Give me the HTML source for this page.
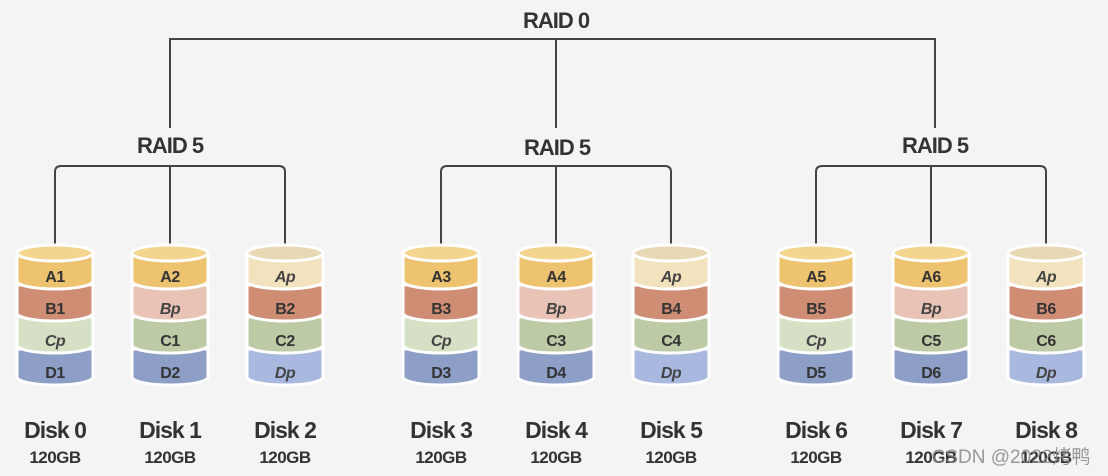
<!DOCTYPE html>
<html><head><meta charset="utf-8"><style>
html,body{margin:0;padding:0;background:#f5f5f5}
svg{display:block}
text{font-family:"Liberation Sans","Noto Sans CJK SC",sans-serif;fill:#333;text-anchor:middle}
.l{font-size:16px;font-weight:bold;letter-spacing:-0.5px}
.p{font-style:italic;fill:#444}
.dk{font-size:23px;font-weight:bold;letter-spacing:-1px}
.gb{font-size:17px;font-weight:bold;letter-spacing:-0.5px}
.r{font-size:22px;font-weight:bold;letter-spacing:-1px}
</style></head><body>
<svg width="1108" height="476" viewBox="0 0 1108 476" xmlns="http://www.w3.org/2000/svg">
<defs>
<path id="L" d="M-38,0 V28 A38 8 0 0 0 38,28 V0 Z" stroke="#fff" stroke-width="3"/>
</defs>
<rect width="1108" height="476" fill="#f4f4f4"/>
<g fill="none" stroke="#444" stroke-width="2">
<path d="M170,128 V39 H935 V128"/>
<path d="M556,39 V128"/>
<path d="M55,253 V172 Q55,166 61,166 H279 Q285,166 285,172 V253 M170,166 V253"/>
<path d="M441,253 V172 Q441,166 447,166 H665 Q671,166 671,172 V253 M556,166 V253"/>
<path d="M816,253 V172 Q816,166 822,166 H1040 Q1046,166 1046,172 V253 M931,166 V253"/>
</g>
<text class="r" x="556" y="28">RAID 0</text>
<text class="r" x="170" y="153">RAID 5</text>
<text class="r" x="557" y="155">RAID 5</text>
<text class="r" x="935" y="153">RAID 5</text>

<g transform="translate(55,0)">
<use href="#L" y="349" fill="#8d9fc7"/><use href="#L" y="317" fill="#d6e0c4"/><use href="#L" y="285" fill="#cf8d74"/><use href="#L" y="253" fill="#eec36f"/>
<ellipse cx="0" cy="253" rx="38" ry="8" fill="#f3d58e" stroke="#fff" stroke-width="3"/>
<text class="l" y="282">A1</text><text class="l" y="314">B1</text><text class="l p" y="346">Cp</text><text class="l" y="378">D1</text>
<text class="dk" y="438">Disk 0</text><text class="gb" y="463">120GB</text></g>

<g transform="translate(170,0)">
<use href="#L" y="349" fill="#8d9fc7"/><use href="#L" y="317" fill="#bccaa6"/><use href="#L" y="285" fill="#e8c3b6"/><use href="#L" y="253" fill="#eec36f"/>
<ellipse cx="0" cy="253" rx="38" ry="8" fill="#f3d58e" stroke="#fff" stroke-width="3"/>
<text class="l" y="282">A2</text><text class="l p" y="314">Bp</text><text class="l" y="346">C1</text><text class="l" y="378">D2</text>
<text class="dk" y="438">Disk 1</text><text class="gb" y="463">120GB</text></g>

<g transform="translate(285,0)">
<use href="#L" y="349" fill="#a9b8df"/><use href="#L" y="317" fill="#bccaa6"/><use href="#L" y="285" fill="#cf8d74"/><use href="#L" y="253" fill="#f2e2bd"/>
<ellipse cx="0" cy="253" rx="38" ry="8" fill="#e9d8b4" stroke="#fff" stroke-width="3"/>
<text class="l p" y="282">Ap</text><text class="l" y="314">B2</text><text class="l" y="346">C2</text><text class="l p" y="378">Dp</text>
<text class="dk" y="438">Disk 2</text><text class="gb" y="463">120GB</text></g>

<g transform="translate(441,0)">
<use href="#L" y="349" fill="#8d9fc7"/><use href="#L" y="317" fill="#d6e0c4"/><use href="#L" y="285" fill="#cf8d74"/><use href="#L" y="253" fill="#eec36f"/>
<ellipse cx="0" cy="253" rx="38" ry="8" fill="#f3d58e" stroke="#fff" stroke-width="3"/>
<text class="l" y="282">A3</text><text class="l" y="314">B3</text><text class="l p" y="346">Cp</text><text class="l" y="378">D3</text>
<text class="dk" y="438">Disk 3</text><text class="gb" y="463">120GB</text></g>

<g transform="translate(556,0)">
<use href="#L" y="349" fill="#8d9fc7"/><use href="#L" y="317" fill="#bccaa6"/><use href="#L" y="285" fill="#e8c3b6"/><use href="#L" y="253" fill="#eec36f"/>
<ellipse cx="0" cy="253" rx="38" ry="8" fill="#f3d58e" stroke="#fff" stroke-width="3"/>
<text class="l" y="282">A4</text><text class="l p" y="314">Bp</text><text class="l" y="346">C3</text><text class="l" y="378">D4</text>
<text class="dk" y="438">Disk 4</text><text class="gb" y="463">120GB</text></g>

<g transform="translate(671,0)">
<use href="#L" y="349" fill="#a9b8df"/><use href="#L" y="317" fill="#bccaa6"/><use href="#L" y="285" fill="#cf8d74"/><use href="#L" y="253" fill="#f2e2bd"/>
<ellipse cx="0" cy="253" rx="38" ry="8" fill="#e9d8b4" stroke="#fff" stroke-width="3"/>
<text class="l p" y="282">Ap</text><text class="l" y="314">B4</text><text class="l" y="346">C4</text><text class="l p" y="378">Dp</text>
<text class="dk" y="438">Disk 5</text><text class="gb" y="463">120GB</text></g>

<g transform="translate(816,0)">
<use href="#L" y="349" fill="#8d9fc7"/><use href="#L" y="317" fill="#d6e0c4"/><use href="#L" y="285" fill="#cf8d74"/><use href="#L" y="253" fill="#eec36f"/>
<ellipse cx="0" cy="253" rx="38" ry="8" fill="#f3d58e" stroke="#fff" stroke-width="3"/>
<text class="l" y="282">A5</text><text class="l" y="314">B5</text><text class="l p" y="346">Cp</text><text class="l" y="378">D5</text>
<text class="dk" y="438">Disk 6</text><text class="gb" y="463">120GB</text></g>

<g transform="translate(931,0)">
<use href="#L" y="349" fill="#8d9fc7"/><use href="#L" y="317" fill="#bccaa6"/><use href="#L" y="285" fill="#e8c3b6"/><use href="#L" y="253" fill="#eec36f"/>
<ellipse cx="0" cy="253" rx="38" ry="8" fill="#f3d58e" stroke="#fff" stroke-width="3"/>
<text class="l" y="282">A6</text><text class="l p" y="314">Bp</text><text class="l" y="346">C5</text><text class="l" y="378">D6</text>
<text class="dk" y="438">Disk 7</text><text class="gb" y="463">120GB</text></g>

<g transform="translate(1046,0)">
<use href="#L" y="349" fill="#a9b8df"/><use href="#L" y="317" fill="#bccaa6"/><use href="#L" y="285" fill="#cf8d74"/><use href="#L" y="253" fill="#f2e2bd"/>
<ellipse cx="0" cy="253" rx="38" ry="8" fill="#e9d8b4" stroke="#fff" stroke-width="3"/>
<text class="l p" y="282">Ap</text><text class="l" y="314">B6</text><text class="l" y="346">C6</text><text class="l p" y="378">Dp</text>
<text class="dk" y="438">Disk 8</text><text class="gb" y="463">120GB</text></g>

<text x="1011" y="463" style="font-size:19px;fill:#888;opacity:0.85">CSDN @2022烤鸭</text>
</svg>
</body></html>
